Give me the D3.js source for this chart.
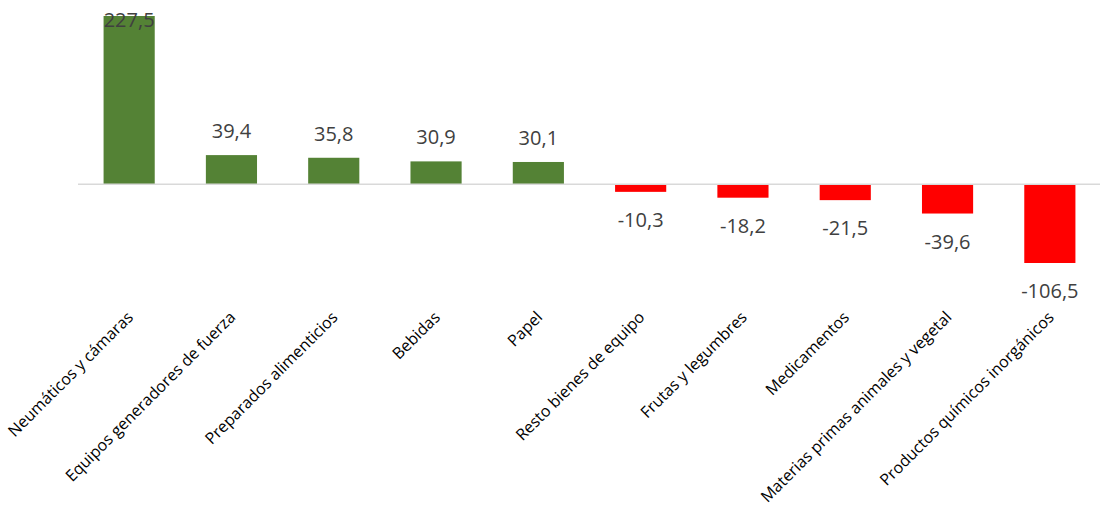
<!DOCTYPE html>
<html>
<head>
<meta charset="utf-8">
<script src="https://cdn.jsdelivr.net/npm/d3@7"></script>
<style>
  body { margin: 0; background: #fff; }
  svg { display: block; font-family: 'Open Sans', sans-serif; }
</style>
</head>
<body>
<svg id="chart" width="1100" height="510"></svg>
<script>
const categories = [
  'Neumáticos y cámaras',
  'Equipos generadores de fuerza',
  'Preparados alimenticios',
  'Bebidas',
  'Papel',
  'Resto bienes de equipo',
  'Frutas y legumbres',
  'Medicamentos',
  'Materias primas animales y vegetal',
  'Productos químicos inorgánicos'
]
const values = [227.5, 39.4, 35.8, 30.9, 30.1, -10.3, -18.2, -21.5, -39.6, -106.5]

const width = 1100
const height = 510
const margin = ({ top: 16, right: -1, bottom: 247, left: 78 })

const data = categories.map((c, i) => ({ name: c, value: values[i] }))

const x = d3.scaleBand()
  .domain(categories)
  .range([margin.left, width - margin.right])
  .paddingInner(0.5)
  .paddingOuter(0.25)

const y = d3.scaleLinear()
  .domain([-106.5, 227.5])
  .range([height - margin.bottom, margin.top])

const fmt = v => (v < 0 ? '-' : '') + d3.format('.1f')(Math.abs(v)).replace('.', ',')

const svg = d3.select('#chart')

svg.append('g')
  .selectAll('rect')
  .data(data)
  .join('rect')
  .attr('x', d => x(d.name))
  .attr('width', x.bandwidth())
  .attr('y', d => y(Math.max(0, d.value)))
  .attr('height', d => Math.abs(y(d.value) - y(0)))
  .attr('fill', d => d.value >= 0 ? '#548235' : '#ff0000')

// zero line
svg.append('line')
  .attr('x1', margin.left)
  .attr('x2', width)
  .attr('y1', y(0))
  .attr('y2', y(0))
  .attr('stroke', '#d9d9d9')
  .attr('stroke-width', 1.5)

// value labels
svg.append('g')
  .selectAll('text')
  .data(data)
  .join('text')
  .attr('x', d => x(d.name) + x.bandwidth() / 2)
  .attr('y', d => d.value >= 0 ? Math.max(y(d.value) - 17, 27) : y(d.value) + 35)
  .attr('text-anchor', 'middle')
  .attr('font-size', 20)
  .attr('fill', '#404040')
  .text(d => fmt(d.value))

// category labels
svg.append('g')
  .selectAll('text')
  .data(data)
  .join('text')
  .attr('transform', d => `translate(${x(d.name) + x.bandwidth() / 2 + 5},${y(0) + 134}) rotate(-45)`)
  .attr('text-anchor', 'end')
  .attr('font-size', 16)
  .attr('fill', '#000')
  .text(d => d.name)
</script>
</body>
</html>
